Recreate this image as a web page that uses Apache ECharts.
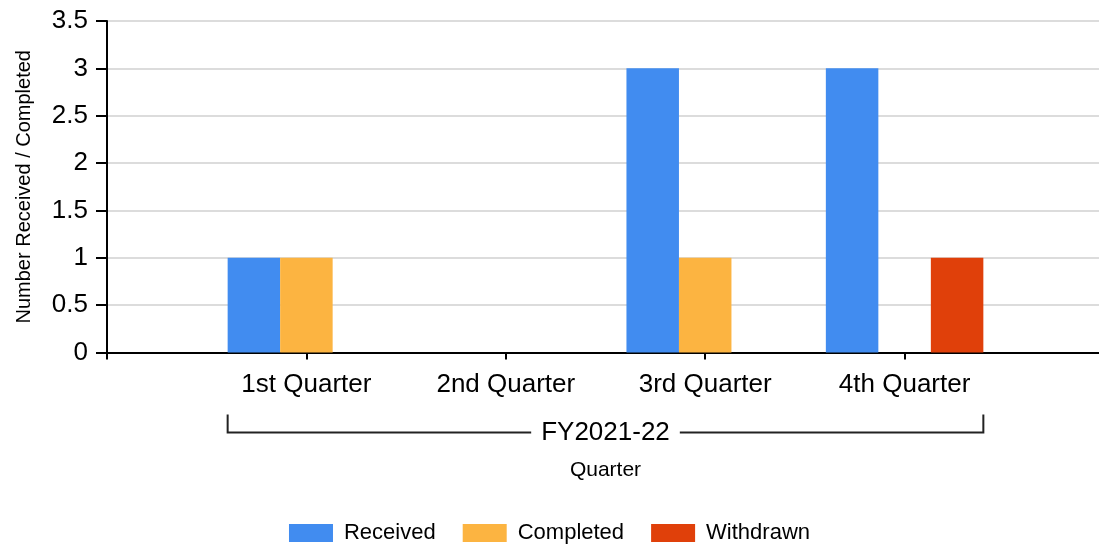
<!DOCTYPE html>
<html>
<head>
<meta charset="utf-8">
<script src="https://cdn.jsdelivr.net/npm/echarts@6/dist/echarts.min.js"></script>
<style>
html,body{margin:0;padding:0;background:#fff;}
#chart{width:1099px;height:544px;}
</style>
</head>
<body>
<div id="chart"></div>
<script>
const quarters = ['1st Quarter', '2nd Quarter', '3rd Quarter', '4th Quarter'];
const received = [1, 0, 3, 3];
const completed = [1, 0, 1, 0];
const withdrawn = [0, 0, 0, 1];
const yTicks = [0, 0.5, 1, 1.5, 2, 2.5, 3, 3.5];
const groupLabel = 'FY2021-22';

const FONT = '"Liberation Sans", Arial, sans-serif';
const axisCats = [''].concat(quarters, ['']);
const pad = arr => [null].concat(arr, [null]);

const chart = echarts.init(document.getElementById('chart'), null, {renderer: 'canvas'});
const BW = 52.5;
const option = {
  animation: false,
  backgroundColor: '#fff',
  textStyle: {fontFamily: FONT},
  grid: {left: 107, top: 21, bottom: 191.5, right: -5, containLabel: false, outerBoundsMode: 'none'},
  xAxis: {
    type: 'category',
    data: axisCats,
    boundaryGap: false,
    name: 'Quarter',
    nameLocation: 'middle',
    nameGap: 107,
    nameTextStyle: {fontSize: 21, color: '#000', fontFamily: FONT},
    axisLine: {lineStyle: {color: '#000', width: 2}},
    axisTick: {length: 7, lineStyle: {color: '#000', width: 2}},
    axisLabel: {fontSize: 26, color: '#000', margin: 19, fontFamily: FONT, interval: 0},
    splitLine: {show: false}
  },
  yAxis: {
    type: 'value',
    min: yTicks[0],
    max: yTicks[yTicks.length - 1],
    interval: yTicks[1] - yTicks[0],
    name: 'Number Received / Completed',
    nameLocation: 'middle',
    nameGap: 73,
    nameTextStyle: {fontSize: 20, color: '#000', fontFamily: FONT},
    axisLine: {show: true, lineStyle: {color: '#000', width: 2}},
    axisTick: {show: true, length: 11, lineStyle: {color: '#000', width: 2}},
    axisLabel: {fontSize: 26, color: '#000', margin: 19, fontFamily: FONT},
    splitLine: {lineStyle: {color: '#DCDCDC', width: 2}}
  },
  legend: {
    top: 517,
    left: 'center',
    itemWidth: 44,
    itemHeight: 18,
    itemGap: 27,
    icon: 'rect',
    textStyle: {fontSize: 22, color: '#000', fontFamily: FONT, padding: [0, 0, 0, 6]},
    data: ['Received', 'Completed', 'Withdrawn']
  },
  series: [
    {name: 'Received', type: 'bar', data: pad(received), barWidth: BW, barGap: '0%', itemStyle: {color: '#418CF0'}},
    {name: 'Completed', type: 'bar', data: pad(completed), barWidth: BW, barGap: '0%', itemStyle: {color: '#FCB441'}},
    {name: 'Withdrawn', type: 'bar', data: pad(withdrawn), barWidth: BW, barGap: '0%', itemStyle: {color: '#E0400A'}}
  ]
};
chart.setOption(option);

// Group bracket under the category labels
const xFirst = chart.convertToPixel({xAxisIndex: 0}, quarters[0]);
const xLast = chart.convertToPixel({xAxisIndex: 0}, quarters[quarters.length - 1]);
const y0 = chart.convertToPixel({yAxisIndex: 0}, 0);
const half = BW * 1.5;
const x0 = xFirst - half, x1 = xLast + half;
const yTop = y0 + 62, yLine = y0 + 80;
chart.setOption({
  graphic: [
    {type: 'polyline', shape: {points: [[x0, yTop], [x0, yLine], [x1, yLine], [x1, yTop]]},
      style: {stroke: '#222', lineWidth: 2, fill: null}, z: 10},
    {type: 'text', x: (x0 + x1) / 2, y: yLine,
      style: {text: groupLabel, fontSize: 26, fontFamily: FONT, fill: '#000', align: 'center', verticalAlign: 'middle',
        backgroundColor: '#fff', padding: [0, 10]}, z: 11}
  ]
});
</script>
</body>
</html>
